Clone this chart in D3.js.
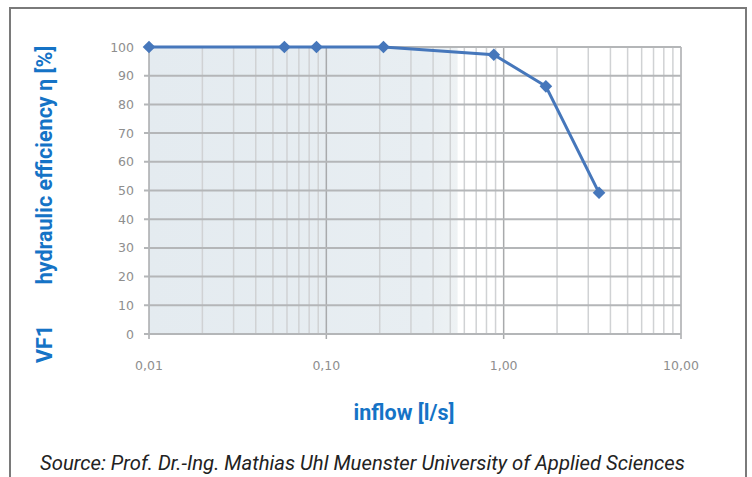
<!DOCTYPE html>
<html><head><meta charset="utf-8">
<script src="https://cdn.jsdelivr.net/npm/d3@7"></script>
<style>body{margin:0;background:#fff;}svg{display:block;}</style>
</head><body>
<svg id="c" width="752" height="477"></svg>
<script>
const inflow = [0.01, 0.058, 0.088, 0.21, 0.88, 1.73, 3.45];
const efficiency = [100, 100, 100, 100, 97.3, 86.3, 49.2];
const xTickValues = [0.01, 0.1, 1, 10];
const xTickLabels = ["0,01", "0,10", "1,00", "10,00"];
const yTickValues = [0,10,20,30,40,50,60,70,80,90,100];
const shadeRange = [0.01, 0.55];

const svg = d3.select("#c");
const x = d3.scaleLog().domain([0.01, 10]).range([149, 681]);
const y = d3.scaleLinear().domain([0, 100]).range([334, 47]);

// frame
svg.append("rect").attr("x",10).attr("y",8).attr("width",736).attr("height",480)
  .attr("fill","#fff").attr("stroke","#7a7a7a").attr("stroke-width",2);

// shaded region
const grad = svg.append("defs").append("linearGradient").attr("id","sh").attr("x1","0").attr("x2","1");
grad.append("stop").attr("offset","0").attr("stop-color","#e4ebf0");
grad.append("stop").attr("offset","0.9").attr("stop-color","#e8eef2");
grad.append("stop").attr("offset","1").attr("stop-color","#eef2f4");
svg.append("rect").attr("x",x(shadeRange[0])).attr("y",y(100))
  .attr("width",x(shadeRange[1])-x(shadeRange[0])).attr("height",y(0)-y(100))
  .attr("fill","url(#sh)");

// minor vertical grid
const minor = [];
[0.01,0.1,1].forEach(d=>{for(let k=2;k<=9;k++) minor.push(d*k);});
svg.append("g").selectAll("line").data(minor).join("line")
  .attr("x1",d=>x(d)).attr("x2",d=>x(d)).attr("y1",y(100)).attr("y2",y(0))
  .attr("stroke","#d0d2d4").attr("stroke-width",1.5);
// major vertical grid
svg.append("g").selectAll("line").data(xTickValues).join("line")
  .attr("x1",d=>x(d)).attr("x2",d=>x(d)).attr("y1",y(100)).attr("y2",y(0)+5)
  .attr("stroke","#a8aaac").attr("stroke-width",1.5);
// horizontal grid
svg.append("g").selectAll("line").data(yTickValues).join("line")
  .attr("x1",x(0.01)-5).attr("x2",x(10)).attr("y1",d=>y(d)).attr("y2",d=>y(d))
  .attr("stroke","#b4b6b8").attr("stroke-width",2);

// y tick labels
svg.append("g").selectAll("text").data(yTickValues).join("text")
  .attr("x",134).attr("y",d=>y(d)+4.5).attr("text-anchor","end")
  .attr("font-family","DejaVu Sans").attr("font-size",12.5).attr("fill","#8e8e8e")
  .text(d=>d);
// x tick labels
svg.append("g").selectAll("text").data(xTickValues).join("text")
  .attr("x",d=>x(d)).attr("y",370).attr("text-anchor","middle")
  .attr("font-family","DejaVu Sans").attr("font-size",12.5).attr("fill","#8e8e8e")
  .text((d,i)=>xTickLabels[i]);

// line
const pts = inflow.map((d,i)=>[d,efficiency[i]]);
svg.append("path").datum(pts)
  .attr("d",d3.line().x(d=>x(d[0])).y(d=>y(d[1])))
  .attr("fill","none").attr("stroke","#4677bb").attr("stroke-width",3);
svg.append("g").selectAll("path").data(pts).join("path")
  .attr("transform",d=>`translate(${x(d[0])},${y(d[1])}) rotate(45)`)
  .attr("d",d3.symbol(d3.symbolSquare,80)())
  .attr("fill","#4677bb");

// axis titles
const tf = "Roboto";
svg.append("text").attr("transform","translate(52,165) rotate(-90)")
  .attr("text-anchor","middle").attr("font-family",tf).attr("font-weight","bold")
  .attr("font-size",21.5).attr("fill","#1573c6").text("hydraulic efficiency η [%]");
svg.append("text").attr("transform","translate(52,344) rotate(-90)")
  .attr("text-anchor","middle").attr("font-family",tf).attr("font-weight","bold")
  .attr("font-size",21.5).attr("fill","#1573c6").text("VF1");
svg.append("text").attr("x",404).attr("y",420).attr("text-anchor","middle")
  .attr("font-family",tf).attr("font-weight","bold")
  .attr("font-size",21.5).attr("fill","#1573c6").text("inflow [l/s]");
svg.append("text").attr("x",40).attr("y",470)
  .attr("font-family","Roboto").attr("font-style","italic")
  .attr("font-size",20.3).attr("fill","#222").text("Source: Prof. Dr.-Ing. Mathias Uhl Muenster University of Applied Sciences");
</script>
</body></html>
